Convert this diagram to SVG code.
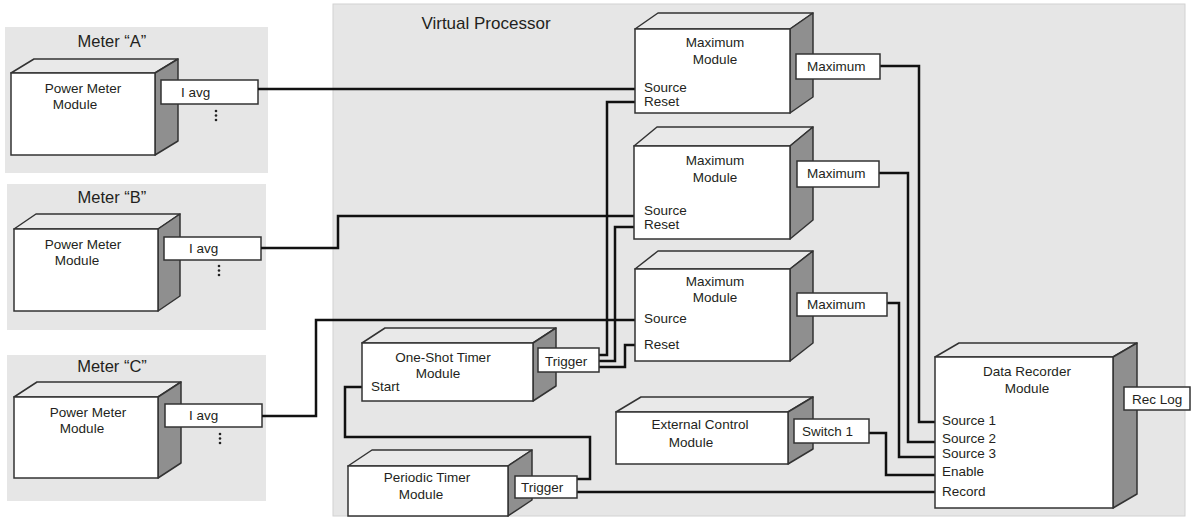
<svg xmlns="http://www.w3.org/2000/svg" width="1193" height="518" viewBox="0 0 1193 518">
<style>
.panel{fill:#e6e6e6}
.vp{fill:#e6e6e6;stroke:#d2d2d2;stroke-width:1}
.front{fill:#fff;stroke:#333;stroke-width:1.5}
.top{fill:#e9e9e9;stroke:#333;stroke-width:1.5;stroke-linejoin:round}
.side{fill:#8f8f8f;stroke:#333;stroke-width:1.5;stroke-linejoin:round}
.port{fill:#fff;stroke:#333;stroke-width:1.5}
.t{font-family:"Liberation Sans",Arial,sans-serif;font-size:13.5px;fill:#231f20}
.c{text-anchor:middle}
.h{font-family:"Liberation Sans",Arial,sans-serif;font-size:16.5px;fill:#231f20;text-anchor:middle}
.wire{fill:none;stroke:#111;stroke-width:2.5;stroke-linejoin:miter}
.dot{fill:#222}
</style>
<rect width="1193" height="518" fill="#fff"/>

<g id="virtual-processor">
<rect class="vp" x="333" y="4" width="852" height="512"/>
<text class="h" x="486" y="29" style="font-size:17px">Virtual Processor</text>
</g>

<g id="meter-a">
<rect class="panel" x="5" y="27" width="263" height="146"/>
<text class="h" x="112" y="47">Meter “A”</text>
<polygon class="top" points="11,73 34,59 178,59 155,73"/>
<polygon class="side" points="155,73 178,59 178,141 155,155"/>
<rect class="front" x="11" y="73" width="144" height="82"/>
<text class="t c" x="83" y="93">Power Meter</text>
<text class="t c" x="75" y="109">Module</text>
<rect class="port" x="161" y="80" width="97" height="24"/>
<text class="t" x="181" y="97">I avg</text>
<circle class="dot" cx="216" cy="111" r="1.3"/><circle class="dot" cx="216" cy="115.5" r="1.3"/><circle class="dot" cx="216" cy="120" r="1.3"/>
</g>

<g id="meter-b">
<rect class="panel" x="7" y="184" width="259" height="146"/>
<text class="h" x="112" y="203">Meter “B”</text>
<polygon class="top" points="14,229 36,214 180,214 158,229"/>
<polygon class="side" points="158,229 180,214 180,296 158,311"/>
<rect class="front" x="14" y="229" width="144" height="82"/>
<text class="t c" x="83" y="249">Power Meter</text>
<text class="t c" x="77" y="265">Module</text>
<rect class="port" x="164" y="237" width="97" height="23"/>
<text class="t" x="189" y="253">I avg</text>
<circle class="dot" cx="219" cy="266" r="1.3"/><circle class="dot" cx="219" cy="270.5" r="1.3"/><circle class="dot" cx="219" cy="275" r="1.3"/>
</g>

<g id="meter-c">
<rect class="panel" x="7" y="355" width="259" height="146"/>
<text class="h" x="112" y="372">Meter “C”</text>
<polygon class="top" points="14,397 37,382 181,382 158,397"/>
<polygon class="side" points="158,397 181,382 181,463 158,478"/>
<rect class="front" x="14" y="397" width="144" height="81"/>
<text class="t c" x="88" y="417">Power Meter</text>
<text class="t c" x="82" y="433">Module</text>
<rect class="port" x="165" y="404" width="97" height="23"/>
<text class="t" x="189" y="420">I avg</text>
<circle class="dot" cx="220" cy="434" r="1.3"/><circle class="dot" cx="220" cy="438.5" r="1.3"/><circle class="dot" cx="220" cy="443" r="1.3"/>
</g>

<g id="connectors">
<path class="wire" d="M258,89 H635"/>
<path class="wire" d="M261,248 H338 V216 H634"/>
<path class="wire" d="M262,416 H316 V320 H635"/>
<path class="wire" d="M599,355 H607 V102 H635"/>
<path class="wire" d="M599,361 H615 V227 H634"/>
<path class="wire" d="M599,367 H625 V345 H635"/>
<path class="wire" d="M362,387 H345 V437 H590 V479 H577"/>
<path class="wire" d="M577,492 H935"/>
<path class="wire" d="M880,66 H919 V422 H935"/>
<path class="wire" d="M879,173 H908 V442 H935"/>
<path class="wire" d="M887,303 H899 V457 H935"/>
<path class="wire" d="M869,433 H886 V475 H935"/>
</g>

<g id="max1">
<polygon class="top" points="635,29 658,13 813,13 790,29"/>
<polygon class="side" points="790,29 813,13 813,97 790,113"/>
<rect class="front" x="635" y="29" width="155" height="84"/>
<text class="t c" x="715" y="47">Maximum</text>
<text class="t c" x="715" y="64">Module</text>
<text class="t" x="644" y="92">Source</text>
<text class="t" x="644" y="106">Reset</text>
<rect class="port" x="796" y="54" width="84" height="25"/>
<text class="t" x="807" y="71">Maximum</text>
</g>

<g id="max2">
<polygon class="top" points="634,146 657,127 813,127 790,146"/>
<polygon class="side" points="790,146 813,127 813,220 790,239"/>
<rect class="front" x="634" y="146" width="156" height="93"/>
<text class="t c" x="715" y="165">Maximum</text>
<text class="t c" x="715" y="182">Module</text>
<text class="t" x="644" y="215">Source</text>
<text class="t" x="644" y="229">Reset</text>
<rect class="port" x="797" y="161" width="82" height="26"/>
<text class="t" x="807" y="178">Maximum</text>
</g>

<g id="max3">
<polygon class="top" points="635,269 658,251 813,251 790,269"/>
<polygon class="side" points="790,269 813,251 813,343 790,361"/>
<rect class="front" x="635" y="269" width="155" height="92"/>
<text class="t c" x="715" y="286">Maximum</text>
<text class="t c" x="715" y="302">Module</text>
<text class="t" x="644" y="323">Source</text>
<text class="t" x="644" y="349">Reset</text>
<rect class="port" x="797" y="293" width="90" height="23"/>
<text class="t" x="807" y="309">Maximum</text>
</g>

<g id="one-shot-timer">
<polygon class="top" points="362,343 385,328 556,328 533,343"/>
<polygon class="side" points="533,343 556,328 556,386 533,401"/>
<rect class="front" x="362" y="343" width="171" height="58"/>
<text class="t c" x="443" y="362">One-Shot Timer</text>
<text class="t c" x="438" y="378">Module</text>
<text class="t" x="371" y="391">Start</text>
<rect class="port" x="538" y="348" width="61" height="24"/>
<text class="t" x="545" y="366">Trigger</text>
</g>

<g id="periodic-timer">
<polygon class="top" points="348,466 372,450 532,450 508,466"/>
<polygon class="side" points="508,466 532,450 532,500 508,516"/>
<rect class="front" x="348" y="466" width="160" height="50"/>
<text class="t c" x="427" y="482">Periodic Timer</text>
<text class="t c" x="421" y="499">Module</text>
<rect class="port" x="515" y="476" width="62" height="22"/>
<text class="t" x="521" y="492">Trigger</text>
</g>

<g id="external-control">
<polygon class="top" points="616,412 641,397 813,397 788,412"/>
<polygon class="side" points="788,412 813,397 813,449 788,464"/>
<rect class="front" x="616" y="412" width="172" height="52"/>
<text class="t c" x="700" y="429">External Control</text>
<text class="t c" x="691" y="447">Module</text>
<rect class="port" x="794" y="419" width="75" height="24"/>
<text class="t" x="802" y="436">Switch 1</text>
</g>

<g id="data-recorder">
<polygon class="top" points="935,357 959,343 1137,343 1113,357"/>
<polygon class="side" points="1113,357 1137,343 1137,494 1113,508"/>
<rect class="front" x="935" y="357" width="178" height="151"/>
<text class="t c" x="1027" y="376">Data Recorder</text>
<text class="t c" x="1027" y="393">Module</text>
<text class="t" x="942" y="425">Source 1</text>
<text class="t" x="942" y="443">Source 2</text>
<text class="t" x="942" y="458">Source 3</text>
<text class="t" x="942" y="476">Enable</text>
<text class="t" x="942" y="496">Record</text>
<rect class="port" x="1124" y="387" width="66" height="23"/>
<text class="t" x="1132" y="404">Rec Log</text>
</g>
</svg>
